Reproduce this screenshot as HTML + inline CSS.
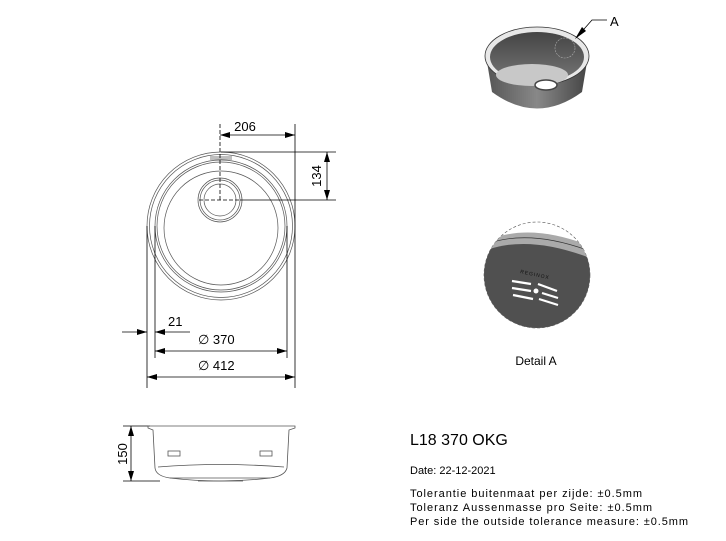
<!DOCTYPE html>
<html><head><style>html,body{margin:0;padding:0;background:#fff}svg{display:block}</style></head>
<body>
<svg width="726" height="541" viewBox="0 0 726 541" xmlns="http://www.w3.org/2000/svg" font-family="Liberation Sans, sans-serif">
<defs>
<marker id="ar" markerWidth="10" markerHeight="6" refX="10" refY="3" orient="auto-start-reverse" markerUnits="userSpaceOnUse"><path d="M0,0 L10,3 L0,6 z" fill="#000"/></marker>
<linearGradient id="ext" x1="0" y1="0" x2="1" y2="0"><stop offset="0" stop-color="#555"/><stop offset="0.5" stop-color="#888"/><stop offset="1" stop-color="#444"/></linearGradient>
<linearGradient id="inn" x1="0" y1="0" x2="0" y2="1"><stop offset="0" stop-color="#444"/><stop offset="1" stop-color="#777"/></linearGradient>
</defs>
<g fill="none" stroke="#555" stroke-width="0.7">
<circle cx="221" cy="226" r="74"/>
<circle cx="221" cy="226" r="71.5"/>
<circle cx="221" cy="226" r="66"/>
<circle cx="221" cy="226" r="64"/>
<circle cx="221" cy="228" r="57"/>
<circle cx="220" cy="200" r="22"/>
<circle cx="220" cy="200" r="20"/>
<circle cx="220" cy="200" r="16"/>
<path d="M210,157 L232,157 M210,159 L232,159"/>
</g>
<g stroke="#000" stroke-width="0.8" fill="none">
<line x1="220" y1="124" x2="220" y2="200" stroke-dasharray="4,2"/>
<line x1="199" y1="200" x2="240" y2="200" stroke-dasharray="4,2"/>
<line x1="295" y1="124" x2="295" y2="388"/>
<line x1="147" y1="226" x2="147" y2="388"/>
<line x1="155" y1="226" x2="155" y2="358"/>
<line x1="287" y1="226" x2="287" y2="358"/>
<line x1="220" y1="135" x2="295" y2="135" marker-start="url(#ar)" marker-end="url(#ar)"/>
<line x1="221" y1="152" x2="336" y2="152"/>
<line x1="240" y1="200" x2="336" y2="200"/>
<line x1="327" y1="152" x2="327" y2="200" marker-start="url(#ar)" marker-end="url(#ar)"/>
<line x1="122" y1="332" x2="147" y2="332" marker-end="url(#ar)"/>
<line x1="190" y1="332" x2="155" y2="332" marker-end="url(#ar)"/>
<line x1="155" y1="351" x2="287" y2="351" marker-start="url(#ar)" marker-end="url(#ar)"/>
<line x1="147" y1="377" x2="295" y2="377" marker-start="url(#ar)" marker-end="url(#ar)"/>
<line x1="123" y1="426" x2="150" y2="426"/>
<line x1="123" y1="481" x2="160" y2="481"/>
<line x1="131" y1="426" x2="131" y2="481" marker-start="url(#ar)" marker-end="url(#ar)"/>
</g>
<g font-size="13" fill="#000">
<text x="245" y="131" text-anchor="middle">206</text>
<text x="321" y="176" text-anchor="middle" transform="rotate(-90 321 176)">134</text>
<text x="168" y="326">21</text>
<text x="198" y="344">∅  370</text>
<text x="198" y="370">∅  412</text>
<text x="127" y="454" text-anchor="middle" transform="rotate(-90 127 454)">150</text>
</g>
<g fill="none" stroke="#555" stroke-width="0.8">
<path d="M148,426 L295,426 L295,428 L289,430 L287,468 Q285,476 270,478 L170,478 Q156,476 155,468 L153,430 L148,428 Z"/>
<path d="M158,467 Q220,462 284,467"/>
<path d="M170,478 Q220,484 270,478"/>
<path d="M198,481 L243,481"/>
<rect x="168" y="451" width="12" height="5"/><rect x="260" y="451" width="12" height="5"/>
</g>
<!-- iso sink -->
<g>
<path d="M486,56 L492,92 Q537,125 582,92 L588,56 Z" fill="url(#ext)"/>
<ellipse cx="537" cy="56" rx="52" ry="29" fill="#e8e8e8" stroke="#333" stroke-width="0.8"/>
<ellipse cx="537" cy="57" rx="47" ry="25" fill="url(#inn)"/>
<ellipse cx="532" cy="75" rx="36" ry="11" fill="#c8c8c8"/>
<ellipse cx="546" cy="85" rx="11" ry="5" fill="#fff" stroke="#444" stroke-width="1.5"/>
<circle cx="565" cy="48" r="10" fill="none" stroke="#aaa" stroke-width="0.6" stroke-dasharray="2,1"/>
<path d="M577,37 L592,20 L607,20" fill="none" stroke="#000" stroke-width="0.8"/>
<path d="M575,39 L582,27 L586,31 Z" fill="#000"/>
<text x="610" y="26" font-size="13">A</text>
</g>
<!-- detail -->
<g>
<clipPath id="dc"><circle cx="537" cy="275" r="53"/></clipPath>
<circle cx="537" cy="275" r="53" fill="#fff" stroke="#555" stroke-width="0.6" stroke-dasharray="3,2"/>
<g clip-path="url(#dc)">
<path d="M470,250 Q520,215 600,250 L600,340 L470,340 Z" fill="#aaa"/>
<path d="M470,258 Q520,228 600,262 L600,340 L470,340 Z" fill="#505050"/>
<path d="M470,252 Q520,222 600,255" fill="none" stroke="#333" stroke-width="0.7"/>
<g stroke="#fff" stroke-width="2.2">
<line x1="512" y1="281" x2="531" y2="284"/><line x1="538" y1="284" x2="557" y2="291"/>
<line x1="512" y1="288" x2="531" y2="291"/><line x1="542" y1="293" x2="558" y2="298"/>
<line x1="513" y1="295" x2="533" y2="299"/><line x1="539" y1="299" x2="558" y2="305"/>
</g>
<circle cx="536" cy="291" r="2.5" fill="#fff"/>
<text x="520" y="273" font-size="5" fill="#111" transform="rotate(12 520 273)" letter-spacing="1">REGINOX</text>
</g>
<text x="536" y="365" font-size="12" text-anchor="middle">Detail A</text>
</g>
<g fill="#000">
<text x="410" y="445" font-size="16">L18 370 OKG</text>
<text x="410" y="474" font-size="11">Date: 22-12-2021</text>
<text x="410" y="497" font-size="11" textLength="232" lengthAdjust="spacing">Tolerantie buitenmaat per zijde:  ±0.5mm</text>
<text x="410" y="511" font-size="11" textLength="242" lengthAdjust="spacing">Toleranz Aussenmasse pro Seite:  ±0.5mm</text>
<text x="410" y="525" font-size="11" textLength="278" lengthAdjust="spacing">Per side the outside tolerance measure:  ±0.5mm</text>
</g>
</svg>
</body></html>
